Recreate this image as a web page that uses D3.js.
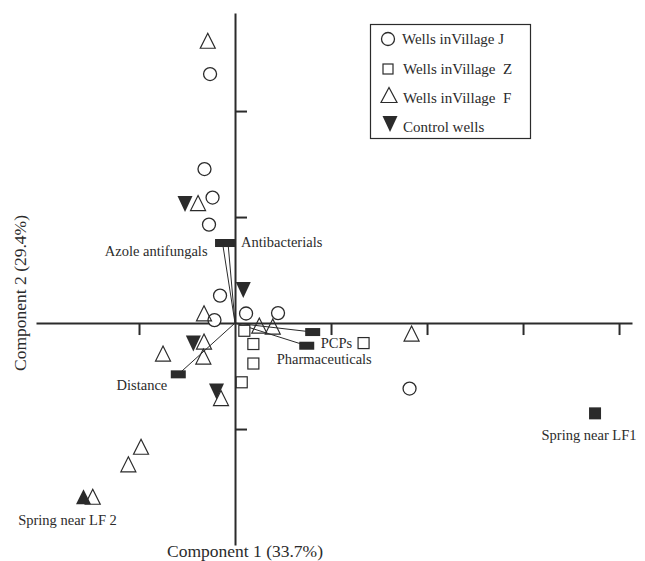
<!DOCTYPE html>
<html>
<head>
<meta charset="utf-8">
<script src="https://cdn.jsdelivr.net/npm/d3@7/dist/d3.min.js"></script>
<style>
  html, body { margin: 0; padding: 0; background: #fff; }
  svg { display: block; }
  text { font-family: "Liberation Serif", "Times New Roman", serif; fill: #2b2b2b; }
</style>
</head>
<body>
<svg id="chart" width="645" height="561"></svg>
<script>
// PCA scores (component 1, component 2) for each group of wells
const villageJ = [
  [-0.260, 2.349], [-0.318, 1.453], [-0.234, 1.184], [-0.271, 0.929],
  [-0.156, 0.259], [-0.214, 0.028], [0.115, 0.090], [0.448, 0.094],
  [1.818, -0.618]
];
const villageZ = [
  [0.097, -0.073], [0.191, -0.198], [0.191, -0.382], [0.070, -0.559],
  [1.339, -0.189]
];
const villageF = [
  [-0.284, 2.663], [-0.385, 1.132], [-0.323, 0.092], [0.253, -0.024],
  [0.393, -0.033], [-0.323, -0.175], [-0.330, -0.316], [-0.750, -0.288],
  [1.839, -0.099], [-0.146, -0.708], [-0.979, -1.167], [-1.111, -1.333],
  [-1.482, -1.639]
];
const controlWells = [
  [-0.521, 1.123], [0.086, 0.311], [-0.434, -0.192], [-0.193, -0.646]
];
// Springs near the landfills
const springNames = ["Spring near LF1", "Spring near LF 2"];
const springScores = [[3.750, -0.852], [-1.578, -1.639]];

// Variable loadings drawn as vectors from the origin
const loadingNames = ["Azole antifungals", "Antibacterials", "PCPs", "Pharmaceuticals", "Distance"];
const loadingValues = [[-0.130, 0.755], [-0.073, 0.755], [0.809, -0.085], [0.747, -0.214], [-0.591, -0.484]];

const legendLabels = ["Wells inVillage J", "Wells inVillage  Z", "Wells inVillage  F", "Control wells"];
const xTicks = [-1, 1, 2, 3, 4];
const yTicks = [-1, 1, 2];
const xTitle = "Component 1 (33.7%)";
const yTitle = "Component 2 (29.4%)";

const ink = "#2b2b2b";
const svg = d3.select("#chart");

const x = d3.scaleLinear().domain([-2.073, 4.135]).range([36, 632]);
const y = d3.scaleLinear().domain([-2.094, 2.925]).range([545, 13]);

// Axes crossing at the origin
const xAxis = svg.append("g")
  .attr("transform", `translate(0,${y(0)})`)
  .call(d3.axisBottom(x).tickValues(xTicks).tickSize(12).tickSizeOuter(0).tickFormat(""));
const yAxis = svg.append("g")
  .attr("transform", `translate(${x(0)},0)`)
  .call(d3.axisRight(y).tickValues(yTicks).tickSize(12).tickSizeOuter(0).tickFormat(""));
[xAxis, yAxis].forEach(a => {
  a.select(".domain").attr("stroke", ink).attr("stroke-width", 2);
  a.selectAll(".tick line").attr("stroke", ink).attr("stroke-width", 2);
});

// Marker shapes
const triUp = (w, h) => `M0,${-h / 2}L${w / 2},${h / 2}L${-w / 2},${h / 2}Z`;
const triDown = (w, h) => `M0,${h / 2}L${w / 2},${-h / 2}L${-w / 2},${-h / 2}Z`;

// Loading vectors
const loadStyle = {
  "Azole antifungals": { dx: -15, dy: 13, anchor: "end" },
  "Antibacterials": { dx: 13, dy: 4, anchor: "start" },
  "PCPs": { dx: 8, dy: 16, anchor: "start" },
  "Pharmaceuticals": { dx: -30, dy: 18, anchor: "start" },
  "Distance": { dx: -11, dy: 16, anchor: "end" }
};
const loads = loadingNames.map((n, i) => ({ name: n, v: loadingValues[i] }));
const vec = svg.append("g");
vec.selectAll("line").data(loads).join("line")
  .attr("x1", x(0)).attr("y1", y(0))
  .attr("x2", d => x(d.v[0])).attr("y2", d => y(d.v[1]))
  .attr("stroke", ink).attr("stroke-width", 1);
vec.selectAll("rect").data(loads).join("rect")
  .attr("x", d => x(d.v[0]) - 7.5).attr("y", d => y(d.v[1]) - 4)
  .attr("width", 15).attr("height", 8).attr("fill", ink);
vec.selectAll("text").data(loads).join("text")
  .attr("x", d => x(d.v[0]) + loadStyle[d.name].dx)
  .attr("y", d => y(d.v[1]) + loadStyle[d.name].dy)
  .attr("text-anchor", d => loadStyle[d.name].anchor)
  .attr("font-size", 14.5)
  .text(d => d.name);

// Scores
const pts = svg.append("g");
pts.selectAll("circle.j").data(villageJ).join("circle").attr("class", "j")
  .attr("cx", d => x(d[0])).attr("cy", d => y(d[1])).attr("r", 6.5)
  .attr("fill", "#fff").attr("stroke", ink).attr("stroke-width", 1.3);
pts.selectAll("rect.z").data(villageZ).join("rect").attr("class", "z")
  .attr("x", d => x(d[0]) - 5.5).attr("y", d => y(d[1]) - 5.5)
  .attr("width", 11).attr("height", 11)
  .attr("fill", "#fff").attr("stroke", ink).attr("stroke-width", 1.2);
pts.selectAll("path.ctl").data(controlWells).join("path").attr("class", "ctl")
  .attr("transform", d => `translate(${x(d[0])},${y(d[1])})`)
  .attr("d", triDown(15, 16)).attr("fill", ink);
pts.selectAll("path.f").data(villageF).join("path").attr("class", "f")
  .attr("transform", d => `translate(${x(d[0])},${y(d[1])})`)
  .attr("d", triUp(15, 15))
  .attr("fill", "none").attr("stroke", ink).attr("stroke-width", 1.2);

// Springs
const springs = springNames.map((n, i) => ({ name: n, v: springScores[i] }));
const sp = svg.append("g");
sp.append("rect")
  .attr("x", x(springs[0].v[0]) - 6).attr("y", y(springs[0].v[1]) - 6)
  .attr("width", 12).attr("height", 12).attr("fill", ink);
sp.append("path")
  .attr("transform", `translate(${x(springs[1].v[0])},${y(springs[1].v[1])})`)
  .attr("d", triUp(15, 15)).attr("fill", ink);
sp.append("text")
  .attr("x", x(springs[0].v[0]) - 6).attr("y", y(springs[0].v[1]) + 27)
  .attr("text-anchor", "middle").attr("font-size", 14.5).text(springs[0].name);
sp.append("text")
  .attr("x", x(springs[1].v[0]) - 16).attr("y", y(springs[1].v[1]) + 28)
  .attr("text-anchor", "middle").attr("font-size", 14.5).text(springs[1].name);

// Axis titles
svg.append("text").attr("x", 245).attr("y", 557).attr("text-anchor", "middle")
  .attr("font-size", 17.5).text(xTitle);
svg.append("text").attr("transform", "translate(26,293) rotate(-90)")
  .attr("text-anchor", "middle").attr("font-size", 17.5).text(yTitle);

// Legend
const lg = svg.append("g");
lg.append("rect").attr("x", 370.5).attr("y", 24.5).attr("width", 160).attr("height", 114)
  .attr("fill", "#fff").attr("stroke", ink).attr("stroke-width", 1.2);
const ly = [39, 69, 98, 127];
lg.append("circle").attr("cx", 388).attr("cy", ly[0]).attr("r", 6.5)
  .attr("fill", "#fff").attr("stroke", ink).attr("stroke-width", 1.3);
lg.append("rect").attr("x", 383).attr("y", ly[1] - 5).attr("width", 10).attr("height", 10)
  .attr("fill", "#fff").attr("stroke", ink).attr("stroke-width", 1.2);
lg.append("path").attr("transform", `translate(389,${ly[2] - 3})`).attr("d", triUp(16, 15))
  .attr("fill", "none").attr("stroke", ink).attr("stroke-width", 1.2);
lg.append("path").attr("transform", `translate(390,${ly[3] - 3})`).attr("d", triDown(15, 16))
  .attr("fill", ink);
lg.selectAll("text").data(legendLabels).join("text")
  .attr("x", (d, i) => i === 0 ? 402 : 403)
  .attr("y", (d, i) => ly[i] + 5)
  .attr("font-size", 15)
  .style("white-space", "pre")
  .text(d => d);
</script>
</body>
</html>
